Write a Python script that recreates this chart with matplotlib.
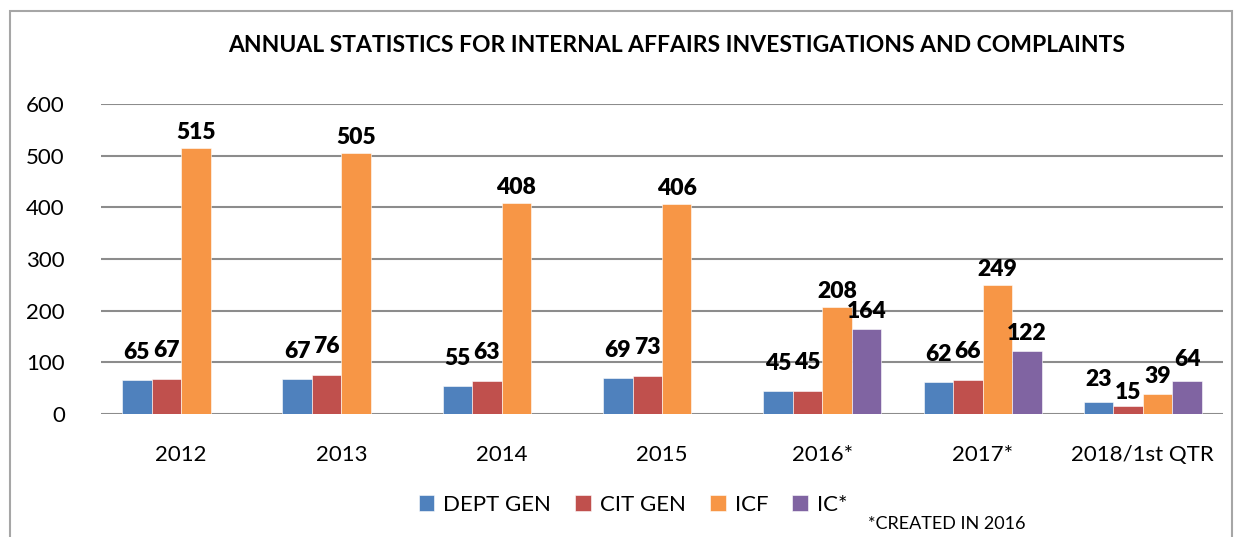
import numpy as np
import matplotlib.pyplot as plt
from matplotlib.patches import Rectangle

plt.rcParams['font.family'] = ['Lato', 'DejaVu Sans']

years = ['2012', '2013', '2014', '2015', '2016*', '2017*', '2018/1st QTR']
dept_gen = [65, 67, 55, 69, 45, 62, 23]
cit_gen = [67, 76, 63, 73, 45, 66, 15]
icf = [515, 505, 408, 406, 208, 249, 39]
ic = [None, None, None, None, 164, 122, 64]

series = [
    ('DEPT GEN', dept_gen, '#4F81BD'),
    ('CIT GEN', cit_gen, '#C0504D'),
    ('ICF', icf, '#F79646'),
    ('IC*', ic, '#8064A2'),
]

# how far (px) each series' labels sit above the bar, last group placed by hand
label_lift = {'DEPT GEN': 17, 'CIT GEN': 18, 'ICF': 5, 'IC*': 7}
last_group_lift = {'DEPT GEN': 12, 'CIT GEN': 3, 'ICF': 7, 'IC*': 11}

fig = plt.figure(figsize=(12.37, 5.37), dpi=100)
# outer chart frame
fig.patches.append(Rectangle((10 / 1237, -0.05), 1222 / 1237, 1.05 - 11 / 537,
                             transform=fig.transFigure, fill=False,
                             edgecolor='#a6a6a6', linewidth=1.5))

ax = fig.add_axes([101 / 1237, 1 - 414 / 537, 1122 / 1237, 310 / 537])

x = np.arange(len(years))
w = 0.184
for k, (name, vals, color) in enumerate(series):
    idx = [i for i, v in enumerate(vals) if v is not None]
    xs = [x[i] + (k - 1.5) * w for i in idx]
    vs = [vals[i] for i in idx]
    bars = ax.bar(xs, vs, width=w, color=color, label=name, zorder=3,
                  edgecolor='white', linewidth=0.4)
    for i, b, v in zip(idx, bars, vs):
        lift = last_group_lift[name] if i == len(years) - 1 else label_lift[name]
        ax.annotate(str(v), (b.get_x() + b.get_width() / 2, v),
                    xytext=(0, lift * 0.72), textcoords='offset points',
                    ha='center', va='bottom', fontsize=16.5, fontweight='heavy')

ax.set_xlim(-0.5, len(years) - 0.5)
ax.set_ylim(0, 600)
ax.set_yticks(range(0, 601, 100))
ax.set_xticks(x)
ax.set_xticklabels(years)
ax.yaxis.grid(True, color='#8c8c8c', linewidth=1.5, zorder=0)
for s in ['top', 'right', 'left', 'bottom']:
    ax.spines[s].set_visible(False)
ax.tick_params(axis='both', length=0, labelsize=16)
ax.tick_params(axis='x', pad=22)
ax.tick_params(axis='y', pad=26)

fig.text(677 / 1237, 1 - 46 / 537, 'ANNUAL STATISTICS FOR INTERNAL AFFAIRS INVESTIGATIONS AND COMPLAINTS',
         ha='center', va='center', fontsize=16.5, fontweight='bold')

fig.legend(loc='center', bbox_to_anchor=(633 / 1237, 1 - 505 / 537), ncol=4,
           frameon=False, fontsize=16, handlelength=0.7, handleheight=0.7,
           handletextpad=0.4, columnspacing=1.1)
fig.text(868 / 1237, 1 - 524 / 537, '*CREATED IN 2016', ha='left', va='center', fontsize=13)

fig.savefig('out.png', dpi=100)
